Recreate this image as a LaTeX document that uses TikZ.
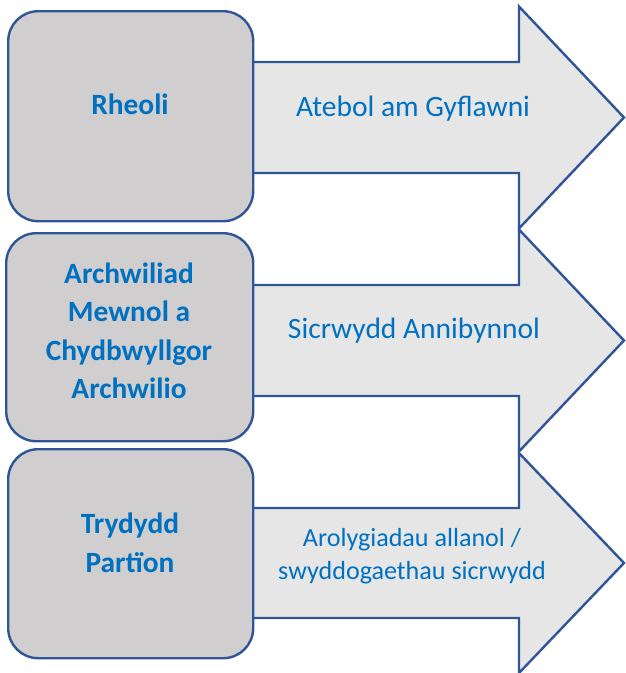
\documentclass[tikz,border=0pt]{standalone}
\usepackage{fontspec}
\setmainfont{Carlito}
\definecolor{bordc}{HTML}{2F5597}
\definecolor{boxfill}{HTML}{D0CECE}
\definecolor{arrfill}{HTML}{E7E6E6}
\definecolor{txtc}{HTML}{0070C0}
\begin{document}
\begin{tikzpicture}[x=1pt,y=-1pt,
  arrowshape/.style={draw=bordc, fill=arrfill, line width=2.4pt, line join=miter},
  boxshape/.style={draw=bordc, fill=boxfill, line width=2.4pt, rounded corners=30pt, anchor=north west, inner sep=0pt},
  boxlabel/.style={text=txtc, font=\fontsize{29.4}{38.5}\selectfont\bfseries, align=center},
  arrlabel/.style={text=txtc, font=\fontsize{29.5}{34}\selectfont, align=center},
  arrlabelsmall/.style={text=txtc, font=\fontsize{26.1}{33}\selectfont, align=center}]
\useasboundingbox (0,0) rectangle (626,673);
% arrows
\draw[arrowshape] (240,62) -- (519,62) -- (519,6.5) -- (624,117.5) -- (519,228.5) -- (519,173) -- (240,173) -- cycle;
\draw[arrowshape] (240,285) -- (519,285) -- (519,229.5) -- (624,340.5) -- (519,451.5) -- (519,396) -- (240,396) -- cycle;
\draw[arrowshape] (240,508) -- (519,508) -- (519,453) -- (624,563) -- (519,673) -- (519,618) -- (240,618) -- cycle;
% boxes
\node[boxshape, minimum width=245pt, minimum height=210pt] (b1) at (7,10) {};
\node[boxshape, minimum width=247pt, minimum height=208pt] (b2) at (5,232) {};
\node[boxshape, minimum width=245pt, minimum height=209pt] (b3) at (7,448) {};
% labels
\node[boxlabel] (l1) at (130,104) {Rheoli};
\node[boxlabel] (l2) at (129,331) {Archwiliad\\Mewnol a\\Chydbwyllgor\\Archwilio};
\node[boxlabel] (l3) at (130,543) {Trydydd\\Partïon};
\node[arrlabel] (a1) at (413,109) {Atebol am Gyflawni};
\node[arrlabel] (a2) at (414,331) {Sicrwydd Annibynnol};
\node[arrlabelsmall] (a3) at (412,556) {Arolygiadau allanol /\\swyddogaethau sicrwydd};
\end{tikzpicture}
\end{document}
